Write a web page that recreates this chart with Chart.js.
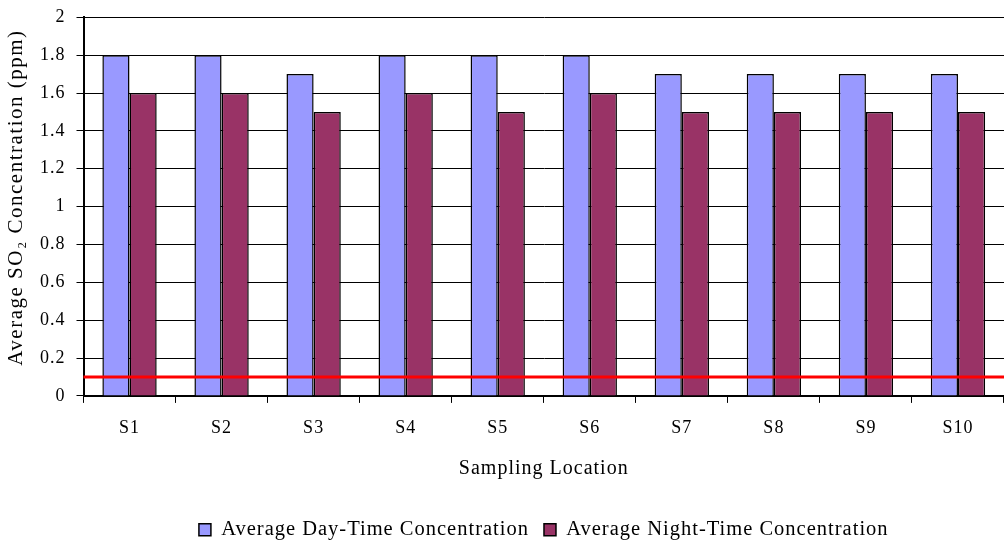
<!DOCTYPE html>
<html>
<head>
<meta charset="utf-8">
<script src="https://cdn.jsdelivr.net/npm/chart.js@4"></script>
<style>
  body { margin: 0; background: #fff; }
  #wrap { width: 1004px; height: 543px; }
</style>
</head>
<body>
<div id="wrap"><canvas id="chart" width="1004" height="543"></canvas></div>
<script>
const locations = ['S1', 'S2', 'S3', 'S4', 'S5', 'S6', 'S7', 'S8', 'S9', 'S10'];
const dayValues = [1.8, 1.8, 1.7, 1.8, 1.8, 1.8, 1.7, 1.7, 1.7, 1.7];
const nightValues = [1.6, 1.6, 1.5, 1.6, 1.5, 1.6, 1.5, 1.5, 1.5, 1.5];
const limitValue = 0.1;
const yTitle = 'Average SO₂ Concentration (ppm)';

const serif = "'Liberation Serif', 'Times New Roman', serif";

// the original text is slightly spaced out
const spacing = {
    id: 'spacing',
    beforeUpdate(chart) { chart.ctx.letterSpacing = '1px'; },
    beforeDraw(chart) { chart.ctx.letterSpacing = '1px'; }
};

// legend sits centred under the plot area, a little lower
const legendPlace = {
    id: 'legendPlace',
    afterLayout(chart) {
        const lg = chart.legend;
        lg.left = chart.chartArea.left;
        lg.right = chart.width;
        lg.width = lg.right - lg.left;
        lg.top += 7;
        lg.bottom += 7;
    }
};

// y title: in the original it sits a bit above the middle of the axis
const yTitleDraw = {
    id: 'yTitleDraw',
    afterDraw(chart) {
        const { ctx, chartArea } = chart;
        ctx.save();
        ctx.font = '21px ' + serif;
        ctx.letterSpacing = '1.5px';
        ctx.fillStyle = '#000';
        ctx.textAlign = 'center';
        ctx.textBaseline = 'middle';
        ctx.translate(16, (chartArea.top + chartArea.bottom) / 2 - 9);
        ctx.rotate(-Math.PI / 2);
        ctx.fillText(yTitle, 0, 0);
        ctx.restore();
    }
};

// red standard line across the whole plot
const limitLine = {
    id: 'limitLine',
    afterDatasetsDraw(chart) {
        const { ctx, chartArea, scales } = chart;
        const y = scales.y.getPixelForValue(limitValue);
        ctx.save();
        ctx.strokeStyle = '#ff0000';
        ctx.lineWidth = 3;
        ctx.beginPath();
        ctx.moveTo(chartArea.left, y);
        ctx.lineTo(chartArea.right, y);
        ctx.stroke();
        ctx.restore();
    }
};

new Chart(document.getElementById('chart'), {
    type: 'bar',
    data: {
        labels: locations,
        datasets: [
            {
                label: 'Average Day-Time Concentration',
                data: dayValues,
                backgroundColor: '#9999ff',
                borderColor: '#000',
                borderWidth: 1.5
            },
            {
                label: 'Average Night-Time Concentration',
                data: nightValues,
                backgroundColor: '#993366',
                borderColor: '#000',
                borderWidth: 1.5
            }
        ]
    },
    options: {
        responsive: false,
        animation: false,
        categoryPercentage: 0.59,
        barPercentage: 1,
        layout: { padding: { top: 4, right: -3, left: 29, bottom: 0 } },
        plugins: {
            tooltip: { enabled: false },
            legend: {
                position: 'bottom',
                labels: {
                    boxWidth: 12,
                    boxHeight: 12,
                    padding: 15,
                    color: '#000',
                    font: { family: serif, size: 20.5 }
                }
            }
        },
        scales: {
            x: {
                grid: {
                    offset: true,
                    drawOnChartArea: false,
                    color: '#000',
                    tickLength: 7
                },
                border: { color: '#000', width: 2 },
                ticks: {
                    color: '#000',
                    padding: 15,
                    font: { family: serif, size: 18 }
                },
                title: {
                    display: true,
                    text: 'Sampling Location',
                    color: '#000',
                    padding: { top: 2, bottom: 17 },
                    font: { family: serif, size: 20 }
                }
            },
            y: {
                min: 0,
                max: 2,
                grid: {
                    color: '#000',
                    tickLength: 7
                },
                border: { color: '#000', width: 2 },
                ticks: {
                    stepSize: 0.2,
                    color: '#000',
                    padding: 11,
                    font: { family: serif, size: 18, lineHeight: 0.7 },
                    callback: value => String(Number(value.toFixed(1)))
                }
            }
        }
    },
    plugins: [spacing, legendPlace, yTitleDraw, limitLine]
});
</script>
</body>
</html>
